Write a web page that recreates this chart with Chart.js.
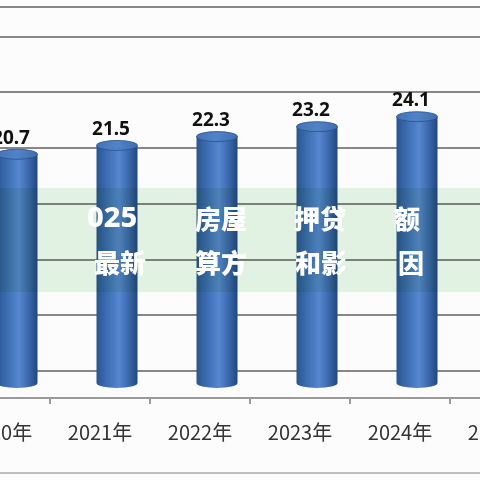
<!DOCTYPE html>
<html>
<head>
<meta charset="utf-8">
<script src="https://cdn.jsdelivr.net/npm/chart.js@4/dist/chart.umd.min.js"></script>
<style>
  html, body { margin: 0; padding: 0; background: #fcfcfd; }
  #wrap { position: relative; width: 480px; height: 480px; overflow: hidden; background: #fcfcfd; }
  #c { position: absolute; left: -50px; top: 0; }
  #frame { position: absolute; left: 0; top: 472px; width: 480px; height: 0; border-top: 2px solid #bdbdbd; }
  #band { position: absolute; left: 0; top: 188px; width: 480px; height: 104px; background: rgb(228,244,228); mix-blend-mode: multiply; }
  .wm { position: absolute; color: #ffffff; font-family: "Noto Sans CJK SC", sans-serif; font-weight: 900; font-size: 26px; line-height: 26px; white-space: nowrap; }
  .dg { font-family: "Noto Sans", sans-serif; font-weight: 800; font-size: 29px; }
</style>
</head>
<body>
<div id="wrap">
  <canvas id="c" width="600" height="480"></canvas>
  <div id="frame"></div>
  <div id="band"></div>
  <span class="wm dg" style="left:87px; top:203px;">025</span>
  <span class="wm" style="left:195px; top:205px;">房屋</span>
  <span class="wm" style="left:294px; top:205px;">押贷</span>
  <span class="wm" style="left:394px; top:205px;">额</span>
  <span class="wm" style="left:94px; top:249px;">最新</span>
  <span class="wm" style="left:195px; top:249px;">算方</span>
  <span class="wm" style="left:295px; top:249px;">和影</span>
  <span class="wm" style="left:398px; top:249px;">因</span>
</div>
<script>
// ---- data ----
const categories = ['2020年', '2021年', '2022年', '2023年', '2024年', '2025年'];
const values = [20.7, 21.5, 22.3, 23.2, 24.1, 25.0];
const gridValues = [0, 5, 10, 15, 20, 25, 30];

// back-wall (gridline) scale and bar scale of the 3D look
const Y_MIN = -2.42, Y_MAX = 32.65;
const YB_MIN = -1.36, YB_MAX = 34.03;
const DEPTH_SHIFT = 17;

const cylinderPlugin = {
  id: 'cylinders',
  afterDatasetsDraw(chart) {
    const ctx = chart.ctx;
    const meta = chart.getDatasetMeta(0);
    meta.data.forEach((bar, i) => {
      const p = bar.getProps(['x', 'y', 'base', 'width'], true);
      const cx = p.x + DEPTH_SHIFT;
      const rx = p.width / 2, ry = 5;
      const left = cx - rx, right = cx + rx;
      const g = ctx.createLinearGradient(left, 0, right, 0);
      g.addColorStop(0, '#2a5590');
      g.addColorStop(0.25, '#3c6db2');
      g.addColorStop(0.55, '#5687cf');
      g.addColorStop(0.8, '#3966aa');
      g.addColorStop(1, '#22477d');
      ctx.save();
      ctx.fillStyle = g;
      ctx.beginPath();
      ctx.moveTo(left, p.y);
      ctx.lineTo(left, p.base);
      ctx.ellipse(cx, p.base, rx, ry, 0, Math.PI, 0, true);
      ctx.lineTo(right, p.y);
      ctx.closePath();
      ctx.fill();
      // top cap
      const tg = ctx.createLinearGradient(left, p.y - ry, right, p.y + ry);
      tg.addColorStop(0, '#4072b6');
      tg.addColorStop(0.5, '#5283c8');
      tg.addColorStop(1, '#3d6bae');
      ctx.fillStyle = tg;
      ctx.beginPath();
      ctx.ellipse(cx, p.y, rx, ry, 0, 0, Math.PI * 2);
      ctx.fill();
      ctx.strokeStyle = 'rgba(40,80,140,0.8)';
      ctx.lineWidth = 1;
      ctx.stroke();
      // value label
      ctx.fillStyle = '#111111';
      ctx.font = 'bold 19px "Noto Sans", sans-serif';
      ctx.textAlign = 'center';
      ctx.textBaseline = 'middle';
      ctx.fillText(values[i].toFixed(1), cx - 6, p.y - 16);
      ctx.restore();
    });
  }
};

new Chart(document.getElementById('c'), {
  type: 'bar',
  data: {
    labels: categories,
    datasets: [{
      data: values,
      yAxisID: 'yb',
      backgroundColor: 'rgba(0,0,0,0)',
      borderWidth: 0,
      categoryPercentage: 1,
      barPercentage: 0.41
    }]
  },
  options: {
    responsive: false,
    devicePixelRatio: 1,
    animation: false,
    layout: { padding: { top: 7, left: 0, right: 0, bottom: 0 } },
    plugins: { legend: { display: false }, tooltip: { enabled: false }, title: { display: false } },
    scales: {
      x: {
        offset: true,
        grid: { display: true, offset: true, drawOnChartArea: false, drawTicks: true, tickLength: 6, color: '#9a9a9a', lineWidth: 2 },
        border: { display: true, color: '#9a9a9a', width: 2 },
        ticks: { autoSkip: false, maxRotation: 0, padding: 16, color: '#333333', font: { family: '"Noto Sans CJK SC", sans-serif', size: 20 } },
        afterFit: s => { s.height = 82; }
      },
      y: {
        min: Y_MIN, max: Y_MAX,
        afterBuildTicks: s => { s.ticks = gridValues.concat([Y_MAX]).map(v => ({ value: v })); },
        afterFit: s => { s.width = 0; },
        grid: { color: '#878787', lineWidth: 2, drawTicks: false },
        border: { display: false },
        ticks: { display: false }
      },
      yb: {
        display: false,
        min: YB_MIN, max: YB_MAX
      }
    }
  },
  plugins: [cylinderPlugin]
});
</script>
</body>
</html>
